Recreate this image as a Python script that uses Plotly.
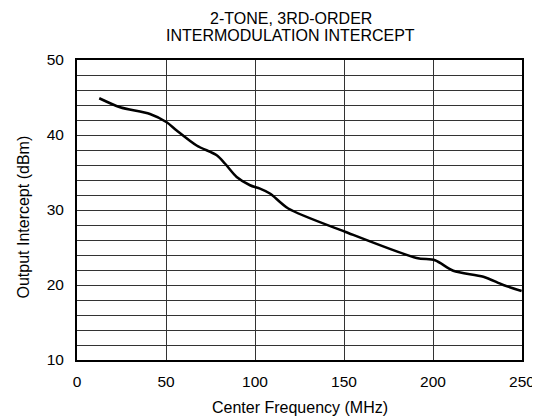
import plotly.graph_objects as go

freq_mhz = [12.5, 24.2, 41.0, 50.4, 56.0, 67.2, 78.5, 83.1, 89.7, 97.2, 102.8, 108.4, 118.7, 150.6, 190.8, 201.1, 211.4, 228.3, 239.5, 249.8]
intercept_dbm = [44.9, 43.7, 42.8, 41.7, 40.6, 38.6, 37.3, 36.2, 34.4, 33.3, 32.85, 32.2, 30.2, 27.1, 23.6, 23.3, 21.9, 21.1, 20.0, 19.2]

x_ticks = [0, 50, 100, 150, 200, 250]
y_ticks = [10, 20, 30, 40, 50]

title_lines = ["2-TONE, 3RD-ORDER", "INTERMODULATION INTERCEPT"]
x_title = "Center Frequency (MHz)"
y_title = "Output Intercept (dBm)"

fig = go.Figure()
fig.add_trace(go.Scatter(
    x=freq_mhz, y=intercept_dbm, mode="lines",
    line=dict(color="black", width=2.5, shape="spline", smoothing=0.8),
    showlegend=False, hoverinfo="skip"))

FAM = "Liberation Sans, Arial, sans-serif"
font = dict(family=FAM, size=16, color="black")
tfont = dict(family=FAM, size=15.5, color="black")

fig.update_layout(
    width=532, height=410,
    margin=dict(l=69, r=18, t=52, b=58, autoexpand=False),
    paper_bgcolor="white", plot_bgcolor="white",
    font=font,
    xaxis=dict(range=[0, 250], tickvals=x_ticks, ticks="", showgrid=True,
               gridcolor="#333333", gridwidth=1, zeroline=False,
               showline=True, linecolor="black", linewidth=2, mirror=True,
               tickfont=tfont, ticklabelstandoff=6, automargin=False),
    yaxis=dict(range=[10, 50], tickvals=y_ticks, ticks="", showgrid=True,
               gridcolor="#333333", gridwidth=1, zeroline=False,
               showline=True, linecolor="black", linewidth=2, mirror=True,
               minor=dict(dtick=2, showgrid=True, gridcolor="#333333", gridwidth=1),
               tickfont=tfont, ticklabelstandoff=8, automargin=False),
)

fig.add_annotation(text=title_lines[0], xref="paper", yref="paper", x=0.48, y=1.14,
                   xanchor="center", yanchor="middle", showarrow=False, font=font)
fig.add_annotation(text=title_lines[1], xref="paper", yref="paper", x=0.48, y=1.083,
                   xanchor="center", yanchor="middle", showarrow=False, font=font)
fig.add_annotation(text=x_title, xref="paper", yref="paper", x=0.502, y=-0.159,
                   xanchor="center", yanchor="middle", showarrow=False, font=font)
fig.add_annotation(text=y_title, xref="paper", yref="paper", x=-0.1213, y=0.475,
                   xanchor="center", yanchor="middle", showarrow=False, textangle=-90, font=font)

fig.write_html("out.html")
